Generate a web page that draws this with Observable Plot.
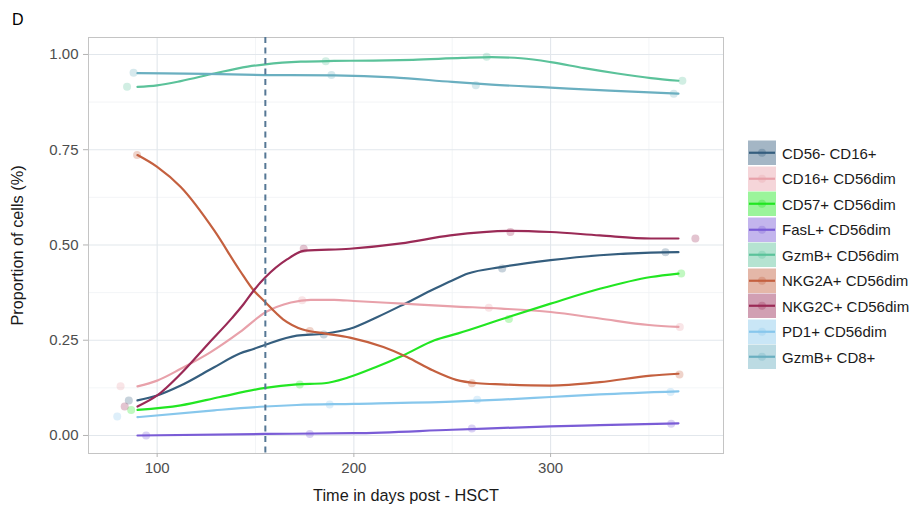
<!DOCTYPE html>
<html><head><meta charset="utf-8">
<script src="https://cdn.jsdelivr.net/npm/d3@7"></script>
<script src="https://cdn.jsdelivr.net/npm/@observablehq/plot@0.6"></script>
<style>
body{margin:0;background:#fff;font-family:"Liberation Sans",Arial,sans-serif;}
#wrap{position:relative;width:912px;height:506px;overflow:hidden;}
#title{position:absolute;left:12px;top:11.5px;font-size:16px;line-height:16px;color:#000;}
#legend{position:absolute;left:748px;top:140.25px;}
.row{display:flex;align-items:center;height:25.5px;}
.row svg{display:block;margin-right:6px;}
.row span{font-size:15px;color:#1a1a1a;white-space:nowrap;}
</style>
</head><body>
<div id="wrap"><div id="title">D</div><div id="legend"></div></div>
<script>
// ---- data ----
const series = ["CD56- CD16+","CD16+ CD56dim","CD57+ CD56dim","FasL+ CD56dim","GzmB+ CD56dim","NKG2A+ CD56dim","NKG2C+ CD56dim","PD1+ CD56dim","GzmB+ CD8+"];
const colors = ["#355E7E","#E8A1AA","#22E622","#7A5CD6","#5BC29A","#C4603F","#9A2A56","#87C7EC","#6AAFC0"];
const xTicks = [100,200,300];
const yTicks = [0,0.25,0.5,0.75,1];
const markerDay = [155];

// smoothed trend
const curveCD56negCD16 = [[90,0.092],[100,0.105],[112,0.131],[129,0.179],[142,0.215],[149,0.227],[155,0.238],[171,0.262],[185,0.267],[198,0.28],[212,0.311],[226,0.346],[241,0.385],[250,0.407],[258,0.425],[275,0.442],[300,0.46],[325,0.473],[351,0.48],[365,0.481]];
const curveCD16 = [[90,0.129],[100,0.144],[112,0.175],[127,0.218],[142,0.271],[155,0.323],[168,0.349],[178,0.356],[190,0.356],[200,0.353],[225,0.346],[250,0.339],[275,0.333],[300,0.324],[325,0.307],[350,0.29],[365,0.285]];
const curveCD57 = [[90,0.067],[112,0.079],[132,0.101],[155,0.125],[171,0.134],[185,0.137],[197,0.152],[211,0.179],[225,0.21],[241,0.25],[253,0.268],[275,0.305],[300,0.346],[325,0.385],[351,0.416],[365,0.425]];
const curveFasL = [[90,0.0],[155,0.004],[200,0.006],[250,0.015],[300,0.024],[325,0.027],[365,0.032]];
const curveGzmB56 = [[90,0.915],[100,0.919],[112,0.93],[129,0.95],[146,0.968],[155,0.974],[173,0.981],[190,0.983],[210,0.984],[230,0.986],[255,0.991],[270,0.993],[285,0.99],[300,0.98],[317,0.964],[334,0.95],[351,0.938],[365,0.931]];
const curveNKG2A = [[90,0.736],[100,0.705],[112,0.652],[129,0.538],[142,0.433],[149,0.381],[154,0.355],[164,0.305],[174,0.278],[185,0.268],[198,0.257],[215,0.232],[227,0.206],[240,0.171],[252,0.146],[263,0.137],[275,0.134],[300,0.131],[325,0.14],[351,0.157],[365,0.162]];
const curveNKG2C = [[90,0.076],[100,0.105],[112,0.162],[126,0.241],[138,0.308],[144,0.345],[149,0.38],[155,0.415],[166,0.462],[175,0.485],[198,0.49],[224,0.504],[249,0.525],[280,0.537],[300,0.534],[325,0.525],[351,0.517],[365,0.517]];
const curvePD1 = [[90,0.048],[129,0.066],[155,0.076],[171,0.08],[200,0.083],[250,0.089],[275,0.094],[300,0.101],[325,0.108],[365,0.116]];
const curveGzmB8 = [[90,0.951],[125,0.949],[155,0.946],[190,0.945],[220,0.94],[250,0.928],[270,0.921],[300,0.913],[330,0.905],[365,0.897]];

// observed (jittered) points
const ptsCD56negCD16 = [[85.6,0.092],[184.7,0.265],[275.4,0.438],[358.4,0.481]];
const ptsCD16 = [[81.4,0.129],[173.7,0.355],[268.6,0.335],[365.7,0.285]];
const ptsCD57 = [[86.8,0.067],[172.5,0.134],[278.8,0.306],[366.4,0.425]];
const ptsFasL = [[94.4,0.0],[177.6,0.004],[260,0.018],[361.3,0.031]];
const ptsGzmB56 = [[84.7,0.915],[185.7,0.982],[267.5,0.994],[367,0.931]];
const ptsNKG2A = [[89.8,0.736],[177.6,0.274],[260,0.137],[365.5,0.16]];
const ptsNKG2C = [[83.5,0.076],[174.5,0.49],[279.6,0.534],[373.6,0.517]];
const ptsPD1 = [[79.7,0.05],[187.7,0.081],[262.7,0.094],[361,0.114]];
const ptsGzmB8 = [[88,0.952],[188.6,0.946],[262,0.919],[362.6,0.897]];

const curves = [curveCD56negCD16,curveCD16,curveCD57,curveFasL,curveGzmB56,curveNKG2A,curveNKG2C,curvePD1,curveGzmB8];
const points = [ptsCD56negCD16,ptsCD16,ptsCD57,ptsFasL,ptsGzmB56,ptsNKG2A,ptsNKG2C,ptsPD1,ptsGzmB8];

const curveRows = series.flatMap((s,i)=>curves[i].map(([day,value])=>({series:s,day,value})));
const pointRows = series.flatMap((s,i)=>points[i].map(([day,value])=>({series:s,day,value})));

const font = "Liberation Sans, Arial, sans-serif";
const chart = Plot.plot({
  width:912, height:506,
  marginLeft:88, marginRight:189, marginTop:37, marginBottom:53,
  style:{fontFamily:font, fontSize:"15px", background:"transparent", overflow:"visible"},
  x:{domain:[65.1,387.9], labelArrow:"none"},
  y:{domain:[-0.0473,1.0445], labelArrow:"none"},
  color:{domain:series, range:colors},
  marks:[
    Plot.gridX([150,250,350],{stroke:"#eef1f4",strokeOpacity:1,strokeWidth:0.7}),
    Plot.gridY([0.125,0.375,0.625,0.875],{stroke:"#eef1f4",strokeOpacity:1,strokeWidth:0.7}),
    Plot.gridX(xTicks,{stroke:"#e2e7ec",strokeOpacity:1,strokeWidth:1.1}),
    Plot.gridY(yTicks,{stroke:"#e2e7ec",strokeOpacity:1,strokeWidth:1.1}),
    Plot.frame({stroke:"#c4c4c4",strokeWidth:1}),
    Plot.dot(pointRows,{x:"day",y:"value",fill:"series",r:4,fillOpacity:0.28,stroke:null}),
    Plot.line(curveRows,{x:"day",y:"value",z:"series",stroke:"series",strokeWidth:2.2,curve:"monotone-x"}),
    Plot.ruleX(markerDay,{stroke:"#557795",strokeWidth:2,strokeDasharray:"6,4.5"}),
    Plot.axisX(xTicks,{tickSize:4,tickPadding:4.5,stroke:"#b3b3b3",fill:"#4d4d4d",fontSize:15,
      label:"Time in days post - HSCT",labelAnchor:"center",labelOffset:47,labelArrow:"none"}),
    Plot.axisY(yTicks,{tickSize:5,tickPadding:5,stroke:"#b3b3b3",fill:"#4d4d4d",fontSize:15,
      tickFormat:d3.format(".2f"),label:"Proportion of cells (%)",labelAnchor:"center",labelOffset:77,labelArrow:"none"})
  ]
});
const labs = d3.select(chart).selectAll('[aria-label="x-axis label"], [aria-label="y-axis label"]');
labs.attr("fill","#1a1a1a").style("font-size","16.3px");
labs.selectAll("text").attr("fill","#1a1a1a").style("font-size","16.3px")
  .each(function(){ this.textContent = this.textContent.replace(/\s*[→←↑↓]\s*/g,"").trim(); });
document.getElementById("wrap").appendChild(chart);

// legend (keys built from the same series/colors arrays)
const leg = d3.select("#legend");
series.forEach((s,i)=>{
  const row = leg.append("div").attr("class","row");
  const svg = row.append("svg").attr("width",28).attr("height",25.5);
  svg.append("rect").attr("x",0).attr("y",0.5).attr("width",28).attr("height",24.5)
    .attr("fill",colors[i]).attr("fill-opacity",0.45);
  svg.append("line").attr("x1",1).attr("x2",27).attr("y1",12.75).attr("y2",12.75)
    .attr("stroke",colors[i]).attr("stroke-width",2.2);
  svg.append("circle").attr("cx",14).attr("cy",12.75).attr("r",4)
    .attr("fill",colors[i]).attr("fill-opacity",0.3);
  row.append("span").text(s);
});
</script>
</body></html>
